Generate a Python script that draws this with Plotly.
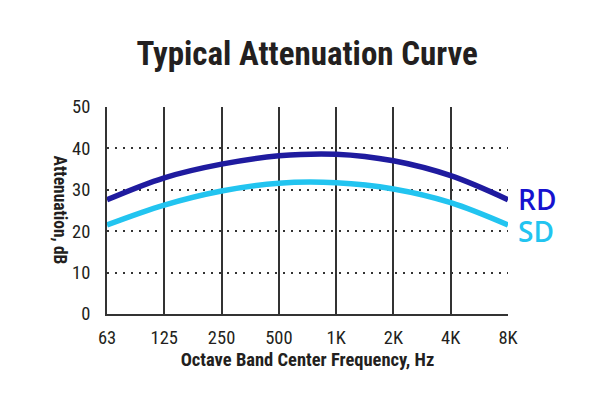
import plotly.graph_objects as go

freqs = ["63", "125", "250", "500", "1K", "2K", "4K", "8K"]
rd_values = [27.6, 32.9, 36.2, 38.2, 38.6, 37.0, 33.4, 27.6]
sd_values = [21.5, 26.3, 29.7, 31.6, 31.7, 30.2, 26.9, 21.5]
y_ticks = [0, 10, 20, 30, 40, 50]

RD_LINE = "#1f1b9f"
RD_TEXT = "#1612cf"
SD_COLOR = "#22c4f0"
COND = "Liberation Sans Narrow, Roboto Condensed, Arial Narrow, sans-serif"
LABEL_FONT = "Open Sans, Noto Sans, sans-serif"

# page body has an 8px default margin; figure is sized to fill the rest of the window
W, H = 582, 390

fig = go.Figure()
fig.add_trace(go.Scatter(x=freqs, y=rd_values, mode="lines",
                         line=dict(color=RD_LINE, width=5.5, shape="spline", smoothing=1.0),
                         showlegend=False, hoverinfo="skip"))
fig.add_trace(go.Scatter(x=freqs, y=sd_values, mode="lines",
                         line=dict(color=SD_COLOR, width=5.5, shape="spline", smoothing=1.0),
                         showlegend=False, hoverinfo="skip"))
# invisible trace on overlay axis carrying the vertical grid (no line at 8K)
fig.add_trace(go.Scatter(x=freqs, y=rd_values, xaxis="x2", mode="lines",
                         line=dict(width=0), opacity=0, showlegend=False, hoverinfo="skip"))

fig.add_annotation(x=freqs[-1], y=rd_values[-1], text="RD", showarrow=False,
                   xanchor="left", yanchor="middle", xshift=8, yshift=1, height=28,
                   font=dict(family=LABEL_FONT, size=28, color=RD_TEXT, weight=600))
fig.add_annotation(x=freqs[-1], y=sd_values[-1], text="SD", showarrow=False,
                   xanchor="left", yanchor="middle", xshift=8, yshift=-6, height=28,
                   font=dict(family=LABEL_FONT, size=28, color=SD_COLOR, weight=600))

fig.add_annotation(xref="paper", yref="paper", x=-0.115, y=0.5,
                   xanchor="center", yanchor="middle",
                   text="Attenuation, dB", textangle=90, showarrow=False,
                   font=dict(family=COND, size=17.5, color="#231f20", weight="bold"))

fig.update_layout(
    width=W, height=H,
    margin=dict(l=99, r=82, t=99, b=84),
    paper_bgcolor="white", plot_bgcolor="white",
    title=dict(text="Typical Attenuation Curve", x=0.514, xanchor="center",
               y=1 - 45 / H, yanchor="middle",
               font=dict(family=COND, size=33, color="#231f20", weight="bold")),
    xaxis=dict(type="category", categoryorder="array", categoryarray=freqs,
               range=[0, len(freqs) - 1],
               showgrid=False,
               showline=True, linecolor="#333333", linewidth=2,
               zeroline=False, ticks="", ticklabelstandoff=6,
               tickfont=dict(family=COND, size=18.5, color="#231f20"),
               title=dict(text="Octave Band Center Frequency, Hz", standoff=2,
                          font=dict(family=COND, size=18.5, color="#231f20", weight="bold"))),
    xaxis2=dict(type="category", categoryorder="array", categoryarray=freqs,
                range=[0, len(freqs) - 1], overlaying="x",
                tickvals=freqs[:-1], showticklabels=False, ticks="",
                showgrid=True, gridcolor="#333333", gridwidth=1.5,
                showline=False, zeroline=False),
    yaxis=dict(range=[0, 50], tickvals=y_ticks,
               showgrid=True, gridcolor="#333333", gridwidth=1.8, griddash="2px,6px",
               showline=True, linecolor="#333333", linewidth=2,
               zeroline=False, ticks="", ticklabelstandoff=11,
               tickfont=dict(family=COND, size=18.5, color="#231f20")),
)

fig.write_html("out.html")
